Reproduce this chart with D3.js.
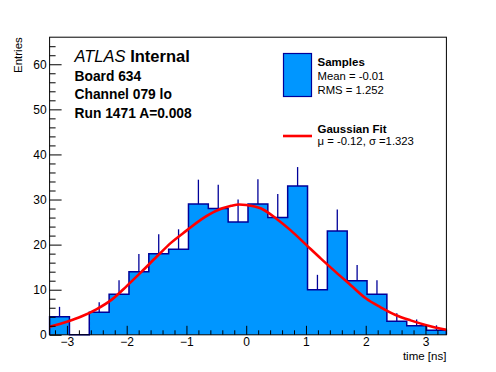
<!DOCTYPE html>
<html>
<head>
<meta charset="utf-8">
<script src="https://cdn.jsdelivr.net/npm/d3@7"></script>
<style>
  html, body { margin: 0; padding: 0; background: #fff; }
  svg { display: block; font-family: "Liberation Sans", Arial, Helvetica, sans-serif; }
</style>
</head>
<body>
<svg id="chart" width="496" height="372"></svg>
<script>
// ---- data ----
const xMin = -3.29, xMax = 3.35;          // histogram range [ns]
const yMax = 66;
const counts = [4, 0, 5, 9, 14, 18, 19, 29, 28, 25, 29, 26, 33, 10, 23, 12, 9, 3, 2, 1];
const errUp  = [2.2, 0, 2.2, 3.1, 3.9, 4.3, 4.4, 5.4, 5.3, 5.0, 5.5, 5.2, 4.2, 3.3, 4.8, 3.5, 3.1, 1.8, 1.4, 1.1];
const fitX = [-3.29, -3.0, -2.75, -2.5, -2.25, -2.0, -1.75, -1.5, -1.25, -1.0, -0.75, -0.5, -0.25, -0.12, 0.0, 0.25, 0.5, 0.75, 1.0, 1.25, 1.5, 1.75, 2.0, 2.25, 2.5, 2.75, 3.0, 3.35];
const fitY = [1.8, 2.9, 4.1, 5.7, 7.8, 10.8, 14.0, 17.3, 20.5, 23.1, 25.6, 27.5, 28.6, 28.9, 28.8, 28.0, 25.8, 23.1, 20.0, 16.9, 13.9, 11.0, 8.1, 6.1, 4.4, 3.2, 2.2, 1.1];
const xTicks = [-3, -2, -1, 0, 1, 2, 3];
const yTicks = [0, 10, 20, 30, 40, 50, 60];
const textLines = ["Board 634", "Channel 079 lo", "Run 1471 A=0.008"];
const legendSamples = ["Samples", "Mean = -0.01", "RMS = 1.252"];
const legendFit = ["Gaussian Fit", "\u03bc = -0.12, \u03c3 =1.323"];

// ---- layout ----
const fx0 = 49.6, fx1 = 446.4, fy0 = 37.2, fy1 = 334.8;
const fillCol = "#0096ff", lineCol = "#000099";

const svg = d3.select("#chart");
const x = d3.scaleLinear().domain([xMin, xMax]).range([fx0, fx1]);
const y = d3.scaleLinear().domain([0, yMax]).range([fy1, fy0]);

const nb = counts.length;
const bw = (xMax - xMin) / nb;
const bins = counts.map((c, i) => ({ lo: xMin + i * bw, hi: xMin + (i + 1) * bw, c, e: errUp[i] }));

// filled histogram + step outline
let pts = [[x(xMin), y(0)]];
bins.forEach(b => { pts.push([x(b.lo), y(b.c)]); pts.push([x(b.hi), y(b.c)]); });
pts.push([x(xMax), y(0)]);
svg.append("path")
  .attr("d", d3.line()(pts) + "Z")
  .attr("fill", fillCol).attr("stroke", "none");
svg.append("path")
  .attr("d", d3.line()(pts))
  .attr("fill", "none").attr("stroke", lineCol).attr("stroke-width", 1.5);

// error bars (upper part)
svg.append("g").selectAll("line").data(bins.filter(b => b.c > 0)).join("line")
  .attr("x1", b => x((b.lo + b.hi) / 2)).attr("x2", b => x((b.lo + b.hi) / 2))
  .attr("y1", b => y(b.c)).attr("y2", b => y(b.c + b.e))
  .attr("stroke", lineCol).attr("stroke-width", 1.3);

// fit curve
svg.append("path")
  .datum(fitX.map((v, i) => [v, fitY[i]]))
  .attr("d", d3.line().x(d => x(d[0])).y(d => y(d[1])).curve(d3.curveMonotoneX))
  .attr("fill", "none").attr("stroke", "#ff0000").attr("stroke-width", 2.6);

// axes
const fontSize = 12;
svg.append("g").attr("transform", `translate(0,${fy1})`)
  .call(d3.axisBottom(x).tickValues(xTicks).tickSize(-9).tickPadding(3).tickFormat(d3.format("d")));
const xMinor = d3.range(-3.2, 3.35, 0.2).filter(v => Math.abs(v - Math.round(v)) > 1e-6);
svg.append("g").attr("transform", `translate(0,${fy1})`)
  .call(d3.axisBottom(x).tickValues(xMinor).tickSize(-4.5).tickFormat(""));
svg.append("g").attr("transform", `translate(${fx0},0)`)
  .call(d3.axisLeft(y).tickValues(yTicks).tickSize(-12).tickPadding(3).tickFormat(d3.format("d")));
const yMinor = d3.range(2, yMax, 2).filter(v => v % 10 !== 0);
svg.append("g").attr("transform", `translate(${fx0},0)`)
  .call(d3.axisLeft(y).tickValues(yMinor).tickSize(-6).tickFormat(""));
svg.selectAll(".domain").remove();
svg.selectAll(".tick line").attr("stroke", "#000").attr("stroke-width", 1);
svg.selectAll(".tick text").attr("font-size", fontSize).attr("fill", "#000")
  .attr("font-family", "'Liberation Sans', Arial, sans-serif");

// frame
svg.append("rect").attr("x", fx0).attr("y", fy0).attr("width", fx1 - fx0).attr("height", fy1 - fy0)
  .attr("fill", "none").attr("stroke", "#000").attr("stroke-width", 1);

// axis titles
svg.append("text").attr("x", fx1).attr("y", 360).attr("text-anchor", "end")
  .attr("font-size", 11.5).text("time [ns]");
svg.append("text").attr("transform", `translate(22,${fy0}) rotate(-90)`).attr("text-anchor", "end")
  .attr("font-size", 11.5).text("Entries");

// ATLAS label
const atl = svg.append("text").attr("x", 74.5).attr("y", 62).attr("font-size", 16.5);
atl.append("tspan").attr("font-style", "italic").text("ATLAS");
atl.append("tspan").attr("font-weight", "bold").text(" Internal");
svg.append("g").selectAll("text").data(textLines).join("text")
  .attr("x", 74.5).attr("y", (d, i) => 80.5 + i * 18.5)
  .attr("font-size", 13.8).attr("font-weight", "bold").text(d => d);

// legend
svg.append("rect").attr("x", 283.5).attr("y", 53.5).attr("width", 28).attr("height", 43)
  .attr("fill", fillCol).attr("stroke", lineCol).attr("stroke-width", 1.2);
svg.append("g").selectAll("text").data(legendSamples).join("text")
  .attr("x", 317.5).attr("y", (d, i) => [65.5, 80, 94][i])
  .attr("font-size", (d, i) => i === 0 ? 11.5 : 11.3)
  .attr("font-weight", (d, i) => i === 0 ? "bold" : "normal").text(d => d);
svg.append("line").attr("x1", 283).attr("x2", 312).attr("y1", 136).attr("y2", 136)
  .attr("stroke", "#ff0000").attr("stroke-width", 2.6);
svg.append("g").selectAll("text").data(legendFit).join("text")
  .attr("x", 317.5).attr("y", (d, i) => [132.5, 145][i])
  .attr("font-size", (d, i) => i === 0 ? 11.5 : 11.3)
  .attr("font-weight", (d, i) => i === 0 ? "bold" : "normal").text(d => d);
</script>
</body>
</html>
